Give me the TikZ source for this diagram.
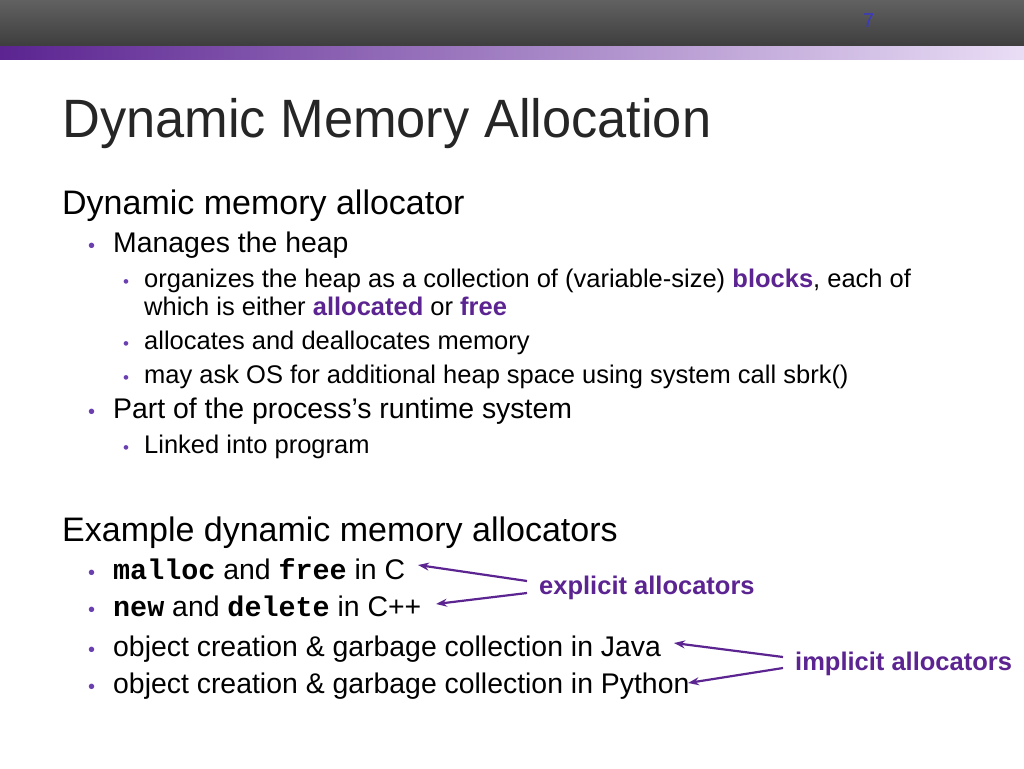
\documentclass[tikz,border=0pt]{standalone}
\usepackage{fontspec}
\setmainfont{Liberation Sans}
\newfontfamily\monob{Liberation Mono}
\usetikzlibrary{arrows.meta}
\definecolor{pur}{HTML}{5B2491}
\definecolor{bul}{HTML}{6A3FB0}
\definecolor{barmid}{HTML}{B88FE0}
\newcommand{\code}[1]{{\monob\bfseries #1}}
\newcommand{\hl}[1]{{\color{pur}\bfseries #1}}
\begin{document}
\begin{tikzpicture}[x=1pt,y=-1pt,
  t/.style={anchor=base west,inner sep=0pt,text=black},
  bl/.style={anchor=base west,inner sep=0pt,text=bul},
  arr/.style={draw=pur,line width=2.2pt,-{Stealth[length=11pt,width=8pt]}}]
\useasboundingbox (0,0) rectangle (1024,768);
\shade[top color=black!62,bottom color=black!76] (0,0) rectangle (1024,47);
\shade[left color=pur,middle color=barmid,right color=barmid!30] (0,47) rectangle (1024,59);
\node[t,text=blue!55!gray,font=\fontsize{20}{22}\selectfont] (pg) at (863,28) {7};
\node[t,text=black!85,font=\fontsize{54}{60}\selectfont,xscale=0.97] (title) at (62,137) {Dynamic Memory Allocation};
\node[t,font=\fontsize{34}{38}\selectfont] (h1) at (62,214) {Dynamic memory allocator};
\node[bl,font=\fontsize{20}{24}\selectfont] (b1) at (88,252) {•};
\node[t,font=\fontsize{28.4}{32}\selectfont] (l1) at (113,252) {Manages the heap};
\node[bl,font=\fontsize{17}{20}\selectfont] (b2) at (123,287) {•};
\node[t,font=\fontsize{25.5}{30}\selectfont] (l2) at (144,287) {organizes the heap as a collection of (variable-size) \hl{blocks}, each of};
\node[t,font=\fontsize{25.5}{30}\selectfont] (l3) at (144,315) {which is either \hl{allocated} or \hl{free}};
\node[bl,font=\fontsize{17}{20}\selectfont] (b3) at (123,349) {•};
\node[t,font=\fontsize{25.5}{30}\selectfont] (l4) at (144,349) {allocates and deallocates memory};
\node[bl,font=\fontsize{17}{20}\selectfont] (b4) at (123,383) {•};
\node[t,font=\fontsize{25.5}{30}\selectfont] (l5) at (144,383) {may ask OS for additional heap space using system call sbrk()};
\node[bl,font=\fontsize{20}{24}\selectfont] (b5) at (88,418) {•};
\node[t,font=\fontsize{28.4}{32}\selectfont] (l6) at (113,418) {Part of the process’s runtime system};
\node[bl,font=\fontsize{17}{20}\selectfont] (b6) at (123,453) {•};
\node[t,font=\fontsize{25.5}{30}\selectfont] (l7) at (144,453) {Linked into program};
\node[t,font=\fontsize{34}{38}\selectfont] (h2) at (62,541) {Example dynamic memory allocators};
\foreach \y/\n in {579/c1,616/c2,656/c3,693/c4}
  \node[bl,font=\fontsize{20}{24}\selectfont] (\n) at (88,\y) {•};
\node[t,font=\fontsize{28.4}{32}\selectfont] (e1) at (113,579) {\code{malloc} and \code{free} in C};
\node[t,font=\fontsize{28.4}{32}\selectfont] (e2) at (113,616) {\code{new} and \code{delete} in C++};
\node[t,font=\fontsize{28.4}{32}\selectfont] (e3) at (113,656) {object creation \& garbage collection in Java};
\node[t,font=\fontsize{28.4}{32}\selectfont] (e4) at (113,693) {object creation \& garbage collection in Python};
\node[t,text=pur,font=\fontsize{25.5}{30}\selectfont\bfseries] (ex) at (539,594) {explicit allocators};
\node[t,text=pur,font=\fontsize{25.5}{30}\selectfont\bfseries] (im) at (795,670) {implicit allocators};
\coordinate (a1) at (418,565); \coordinate (a2) at (436,604);
\coordinate (a3) at (674,643); \coordinate (a4) at (688,683);
\draw[arr] (ex.west|-0,581) ++(-12,0) -- (a1);
\draw[arr] (ex.west|-0,593) ++(-12,0) -- (a2);
\draw[arr] (im.west|-0,657) ++(-12,0) -- (a3);
\draw[arr] (im.west|-0,668) ++(-12,0) -- (a4);
\end{tikzpicture}
\end{document}
